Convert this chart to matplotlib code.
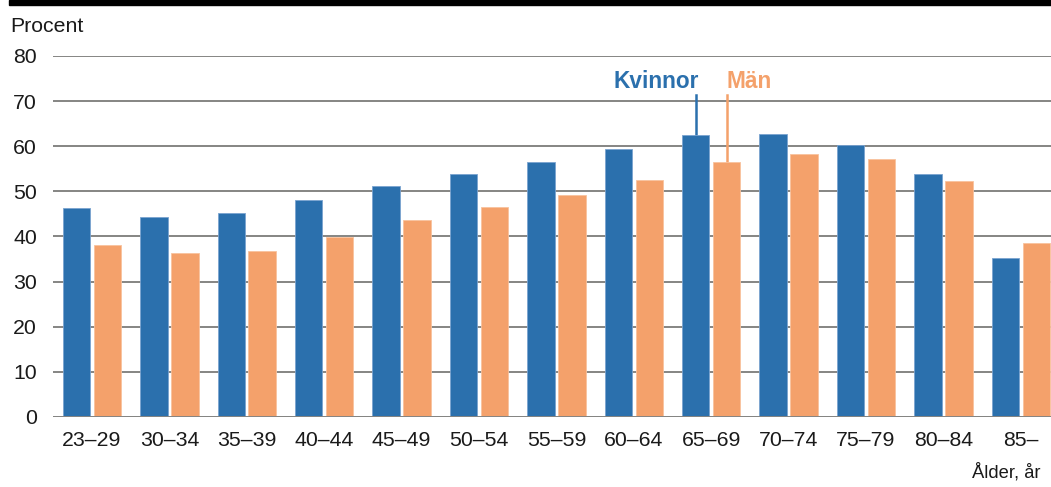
import matplotlib.pyplot as plt
import numpy as np

plt.rcParams["font.family"] = ["Liberation Sans", "DejaVu Sans"]

groups = ["23–29", "30–34", "35–39", "40–44", "45–49", "50–54", "55–59",
          "60–64", "65–69", "70–74", "75–79", "80–84", "85–"]
kvinnor = [46.3, 44.4, 45.3, 48.0, 51.2, 53.9, 56.6, 59.3, 62.4, 62.8, 60.2, 53.9, 35.3]
man = [38.2, 36.3, 36.8, 39.9, 43.6, 46.6, 49.3, 52.5, 56.5, 58.3, 57.1, 52.2, 38.6]

blue = "#2b70ad"
orange = "#f4a16b"
grid = "#858583"

fig = plt.figure(figsize=(10.51, 4.87), dpi=100)
ax = fig.add_axes([53 / 1051, 1 - 417 / 487, 1 - 53 / 1051, (417 - 56) / 487])

x = np.arange(len(groups))
w = 0.355
ax.bar(x - 0.2, kvinnor, w, color=blue, edgecolor="#7aa3d0", linewidth=0.6, zorder=3)
ax.bar(x + 0.2, man, w, color=orange, edgecolor="#f8c29e", linewidth=0.6, zorder=3)

ax.set_xlim(-0.503, 12.39)
ax.set_ylim(0, 80)
ax.set_yticks(range(0, 81, 10))
ax.yaxis.grid(True, color=grid, linewidth=1.4, zorder=1)
ax.set_axisbelow(True)
for s in ax.spines.values():
    s.set_visible(False)
ax.axhline(0, color=grid, linewidth=1.4, zorder=4)
ax.set_xticks(x)
ax.set_xticklabels(groups)
ax.tick_params(axis="both", length=0, labelsize=15.3, colors="#1a1a1a")
ax.tick_params(axis="y", pad=11.5)
ax.tick_params(axis="x", pad=10)

# labels with leader lines on the 65-69 group
i = groups.index("65–69")
ax.plot([i - 0.2, i - 0.2], [kvinnor[i], 71.4], color=blue, linewidth=1.8, zorder=2)
ax.plot([i + 0.2, i + 0.2], [man[i], 71.4], color=orange, linewidth=1.8, zorder=2)
ax.text(i - 0.16, 72.8, "Kvinnor", color=blue, fontsize=16.3, fontweight="bold",
        ha="right", va="baseline")
ax.text(i + 0.2, 72.8, "Män", color=orange, fontsize=16.3, fontweight="bold",
        ha="left", va="baseline")

fig.patches.append(plt.Rectangle((9 / 1051, 1 - 5 / 487), 1, 5 / 487, transform=fig.transFigure,
                                 color="black", zorder=0))
fig.text(10 / 1051, 1 - 31.5 / 487, "Procent", fontsize=15.3, color="#1a1a1a", va="baseline")
fig.text(1040 / 1051, 1 - 478 / 487, "Ålder, år", fontsize=13.2, color="#1a1a1a",
         ha="right", va="baseline")

fig.savefig("out.png", dpi=100)
